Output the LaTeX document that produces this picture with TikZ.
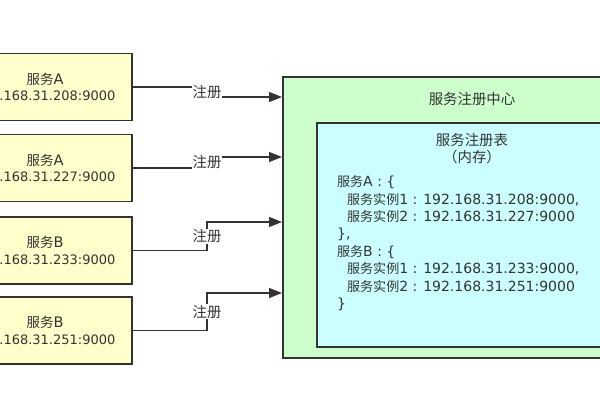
\documentclass[tikz,border=0pt]{standalone}
\usepackage{fontspec}
\setmainfont{DejaVu Sans}
\newfontfamily\cjk{Noto Sans CJK SC}[Scale=0.93]
\newcommand\zh[1]{{\cjk #1}}
\usetikzlibrary{arrows.meta,calc}
\definecolor{boxy}{HTML}{FFFFCC}
\definecolor{boxg}{HTML}{CCFFCC}
\definecolor{boxc}{HTML}{CCFFFF}
\definecolor{ink}{HTML}{333333}
\begin{document}
\begin{tikzpicture}[x=1pt,y=-1pt,
  svc/.style={draw=ink,line width=1.8pt,fill=boxy,minimum width=174pt,minimum height=67pt,
    align=center,font=\fontsize{13}{16.5}\selectfont,text=ink,inner sep=0pt},
  conn/.style={draw=ink,line width=1.4pt,-{Triangle[length=13pt,width=10pt]}},
  lbl/.style={fill=white,inner sep=1pt,font=\fontsize{15.5}{17}\selectfont,text=ink},
  ttl/.style={font=\fontsize{15.5}{17.5}\selectfont,text=ink,align=center}]
\newcommand\sv[1]{{\fontsize{14.5}{16.5}\selectfont\zh{服务}#1}}
\useasboundingbox (0,0) rectangle (600,400);
\clip (0,0) rectangle (600,400);
\fill[white] (0,0) rectangle (600,400);
% registry center
\node[draw=ink,line width=1.8pt,fill=boxg,minimum width=380pt,minimum height=281pt,anchor=north west,inner sep=0pt] (c) at (282,76) {};
\node[ttl] (ct) at (472,99) {\zh{服务注册中心}};
\node[draw=ink,line width=1.8pt,fill=boxc,minimum width=312pt,minimum height=224pt,anchor=north west,inner sep=0pt] (t) at (316,122) {};
\node[ttl] (tt) at (472,148.5) {\zh{服务注册表}\\\zh{（内存）}};
\node[font=\fontsize{14}{17.4}\selectfont,text=ink,align=left,anchor=north west,inner sep=0pt] (tb) at (337,175.5) {%
\zh{服务}A : \{\\
\hspace*{10pt}\zh{服务实例}1 : 192.168.31.208:9000,\\
\hspace*{10pt}\zh{服务实例}2 : 192.168.31.227:9000\\
\},\\
\zh{服务}B : \{\\
\hspace*{10pt}\zh{服务实例}1 : 192.168.31.233:9000,\\
\hspace*{10pt}\zh{服务实例}2 : 192.168.31.251:9000\\
\}};
% services
\node[svc] (b1) at (45,87) {\sv{A}\\192.168.31.208:9000};
\node[svc] (b2) at (45,168) {\sv{A}\\192.168.31.227:9000};
\node[svc] (b3) at (45,250.5) {\sv{B}\\192.168.31.233:9000};
\node[svc] (b4) at (45,330.5) {\sv{B}\\192.168.31.251:9000};
% connectors
\coordinate (jx) at (207,0);
\coordinate (t1) at (c.west |- 0,97);
\coordinate (t2) at (c.west |- 0,157);
\coordinate (t3) at (c.west |- 0,222);
\coordinate (t4) at (c.west |- 0,293);
\draw[conn] (b1.east) -- (b1.east -| jx) -- node[lbl]{\zh{注册}} (t1 -| jx) -- (t1);
\draw[conn] (b2.east) -- (b2.east -| jx) -- node[lbl]{\zh{注册}} (t2 -| jx) -- (t2);
\draw[conn] (b3.east) -- (b3.east -| jx) -- node[lbl]{\zh{注册}} (t3 -| jx) -- (t3);
\draw[conn] (b4.east) -- (b4.east -| jx) -- node[lbl]{\zh{注册}} (t4 -| jx) -- (t4);
\end{tikzpicture}
\end{document}
